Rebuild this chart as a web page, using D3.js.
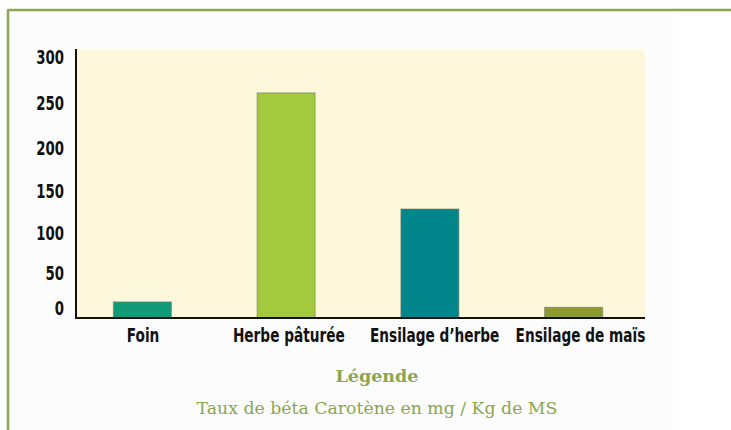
<!DOCTYPE html>
<html>
<head>
<meta charset="utf-8">
<script src="https://cdn.jsdelivr.net/npm/d3@7"></script>
<style>
html,body{margin:0;padding:0;background:#ffffff;}
svg{display:block;}
.lab{font-family:'DejaVu Sans',sans-serif;font-weight:bold;}
</style>
</head>
<body>
<svg id="chart" width="731" height="430"></svg>
<script>
const categories = ["Foin", "Herbe pâturée", "Ensilage d’herbe", "Ensilage de maïs"];
const values = [18, 252, 122, 12];
const barColors = ["#129b78", "#a3c93c", "#02868c", "#8c9a30"];
const yTicks = [0, 50, 100, 150, 200, 250, 300];
const legendTitle = "Légende";
const legendText = "Taux de béta Carotène en mg / Kg de MS";

const svg = d3.select("#chart");
const W = 731, H = 430;

// page background and frame
svg.append("rect").attr("x", 0).attr("y", 0).attr("width", W).attr("height", H).attr("fill", "#ffffff");
svg.append("rect").attr("x", 9).attr("y", 11).attr("width", 664).attr("height", H).attr("fill", "#fcfcfc");
const frameColor = "#8aa64f";
svg.append("line").attr("x1", 8).attr("x2", W).attr("y1", 10).attr("y2", 10)
  .attr("stroke", frameColor).attr("stroke-width", 2.5);
svg.append("line").attr("x1", 8).attr("x2", 8).attr("y1", 9).attr("y2", H)
  .attr("stroke", frameColor).attr("stroke-width", 2.5);

const plotLeft = 76, plotRight = 645, plotTop = 50, plotBottom = 318;

const x = d3.scaleBand().domain(categories).range([70.5, 645.5])
  .paddingInner(0.5965).paddingOuter(0.5965 / 2);
// category labels sit slightly to the right of the bars in the original figure
const xLab = d3.scalePoint().domain(categories).range([142.5, 580]);
const y = d3.scaleLinear().domain([0, 300]).range([plotBottom, plotTop]);
// tick label placement as drawn in the original figure (labels are not evenly spaced)
const yLab = d3.scalePow().exponent(1.1).domain([0, 300]).range([308, 57]);

svg.append("rect").attr("x", plotLeft).attr("y", plotTop)
  .attr("width", plotRight - plotLeft).attr("height", plotBottom - plotTop)
  .attr("fill", "#fdf8dc");

svg.append("g").selectAll("rect").data(values).join("rect")
  .attr("x", (d, i) => x(categories[i]))
  .attr("y", d => y(d))
  .attr("width", x.bandwidth())
  .attr("height", d => y(0) - y(d))
  .attr("fill", (d, i) => barColors[i])
  .attr("stroke", "#6f7a5a").attr("stroke-opacity", 0.6).attr("stroke-width", 1);

// y axis
const yAxis = d3.axisLeft(yLab).tickValues(yTicks).tickSize(0).tickPadding(0);
const gy = svg.append("g").attr("transform", "translate(64,0)").call(yAxis);
gy.select(".domain").remove();
gy.attr("font-family", null);
gy.selectAll("text").attr("class", "lab")
  .attr("font-size", 19).attr("fill", "#111").attr("dy", "0.36em").attr("x", 0)
  .attr("transform", "scale(0.7,1)");

// x axis
const xAxis = d3.axisBottom(xLab).tickSize(0).tickPadding(0);
const gx = svg.append("g").attr("transform", `translate(0,${plotBottom})`).call(xAxis);
gx.select(".domain").remove();
gx.attr("font-family", null);
gx.selectAll("text").attr("class", "lab")
  .attr("font-size", 19).attr("fill", "#111").attr("dy", "0").attr("y", 24)
  .attr("transform", "scale(0.72,1)");

// axis lines
svg.append("line").attr("x1", plotLeft).attr("x2", plotLeft).attr("y1", plotTop - 1).attr("y2", plotBottom + 1)
  .attr("stroke", "#111").attr("stroke-width", 2);
svg.append("line").attr("x1", plotLeft - 1).attr("x2", plotRight).attr("y1", plotBottom).attr("y2", plotBottom)
  .attr("stroke", "#111").attr("stroke-width", 2);

// legend
const serif = "'DejaVu Serif', 'Liberation Serif', serif";
svg.append("text").attr("x", 377).attr("y", 382).attr("text-anchor", "middle")
  .attr("font-family", serif).attr("font-weight", "bold").attr("font-size", 17.5)
  .attr("fill", frameColor).text(legendTitle);
svg.append("text").attr("x", 377).attr("y", 414).attr("text-anchor", "middle")
  .attr("font-family", serif).attr("font-size", 17.3)
  .attr("fill", frameColor).text(legendText);
</script>
</body>
</html>
